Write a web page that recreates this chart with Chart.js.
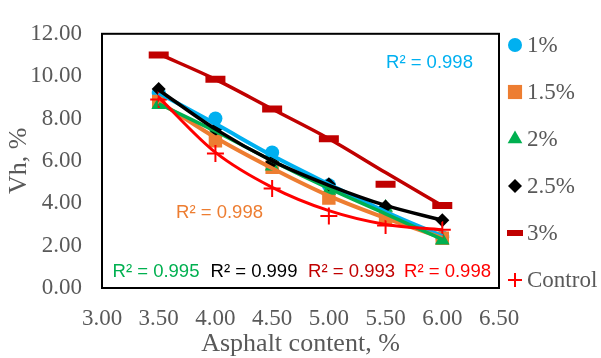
<!DOCTYPE html>
<html><head><meta charset="utf-8">
<script src="https://cdn.jsdelivr.net/npm/chart.js@4/dist/chart.umd.min.js"></script>
<style>html,body{margin:0;padding:0;background:#fff;}</style>
</head><body>
<canvas id="c" width="601" height="358"></canvas>
<script>
// ---- data ----
const asphalt = [3.5, 4.0, 4.5, 5.0, 5.5, 6.0];
const xTicks = [3.0, 3.5, 4.0, 4.5, 5.0, 5.5, 6.0, 6.5];
const yTicks = [0, 2, 4, 6, 8, 10, 12];
const seriesNames = ['1%', '1.5%', '2%', '2.5%', '3%', 'Control'];
// measured points
const vh1   = [9.2, 8.0, 6.4, 4.85, 3.45, 2.4];
const vh15  = [8.8, 6.95, 5.7, 4.25, 3.3, 2.35];
const vh2   = [8.65, 7.45, 5.75, 4.6, 3.8, 2.25];
const vh25  = [9.4, 7.5, 5.95, 4.9, 3.85, 3.2];
const vh3   = [11.0, 9.85, 8.45, 7.05, 4.9, 3.9];
const vhCtl = [8.9, 6.35, 4.7, 3.4, 2.95, 2.75];
// trendline values at the same x
const tr1   = [9.2, 7.75, 6.25, 4.9, 3.6, 2.45];
const tr15  = [8.8, 7.1, 5.65, 4.35, 3.3, 2.37];
const tr2   = [8.7, 7.4, 6.0, 4.7, 3.5, 2.3];
const tr25  = [9.35, 7.5, 6.0, 4.85, 3.9, 3.2];
const tr3   = [11.05, 9.85, 8.45, 7.05, 5.45, 3.88];
const trCtl = [9.0, 6.4, 4.75, 3.65, 3.0, 2.75];
const r2Labels = ['R² = 0.998', 'R² = 0.998', 'R² = 0.995', 'R² = 0.999', 'R² = 0.993', 'R² = 0.998'];

// ---- styling ----
const colors = ['#00B0F0', '#ED7D31', '#00B050', '#000000', '#C00000', '#FF0000'];
const markerStyles = [
  {pointStyle: 'circle', radius: 7, borderWidth: 0},
  {pointStyle: 'rect', radius: 9.5, borderWidth: 0},
  {pointStyle: 'triangle', radius: 8.5, borderWidth: 0},
  {pointStyle: 'rectRot', radius: 7, borderWidth: 0},
  {pointStyle: 'line', radius: 10, borderWidth: 7},
  {pointStyle: 'cross', radius: 8.5, borderWidth: 2}
];
const legendMarkers = [
  {pointStyle: 'circle', radius: 7, borderWidth: 0},
  {pointStyle: 'rect', radius: 10, borderWidth: 0},
  {pointStyle: 'triangle', radius: 8.5, borderWidth: 0},
  {pointStyle: 'rectRot', radius: 7, borderWidth: 0},
  {pointStyle: 'line', radius: 8, borderWidth: 6},
  {pointStyle: 'cross', radius: 7, borderWidth: 2}
];
const trendWidths = [4, 4, 3.5, 3.5, 3.5, 3];
// label anchor positions in data units (x, y)
const r2Pos = [[5.887, 10.61], [4.036, 3.54], [3.476, 0.78], [4.34, 0.74], [5.2, 0.74], [6.046, 0.74]];

const markerSets = [vh1, vh15, vh2, vh25, vh3, vhCtl];
const trendSets = [tr1, tr15, tr2, tr25, tr3, trCtl];
const toXY = arr => arr.map((v, i) => ({x: asphalt[i], y: v}));

const datasets = [];
markerSets.forEach((arr, i) => {
  const m = markerStyles[i];
  datasets.push({
    label: seriesNames[i], data: toXY(arr), showLine: false,
    pointStyle: m.pointStyle, pointRadius: m.radius, pointHoverRadius: m.radius,
    pointBorderWidth: m.borderWidth, pointBackgroundColor: colors[i], pointBorderColor: colors[i],
    backgroundColor: colors[i], borderColor: colors[i], order: 12 - i
  });
});
trendSets.forEach((arr, i) => {
  datasets.push({
    label: seriesNames[i] + ' trend', data: toXY(arr), showLine: true,
    borderColor: colors[i], borderWidth: trendWidths[i], pointRadius: 0,
    cubicInterpolationMode: 'monotone', tension: 0.4, fill: false, order: 6 - i
  });
});

const textGrey = '#595959';
const serif = "'Liberation Serif', 'Times New Roman', serif";

const frame = {
  id: 'frame',
  afterDatasetsDraw(chart) {
    const a = chart.chartArea, ctx = chart.ctx;
    ctx.save();
    ctx.strokeStyle = '#000'; ctx.lineWidth = 2;
    ctx.strokeRect(a.left, a.top, a.right - a.left, a.bottom - a.top);
    ctx.restore();
  }
};

function drawMarker(ctx, m, color, x, y) {
  ctx.save();
  ctx.fillStyle = color; ctx.strokeStyle = color;
  if (Chart.helpers && Chart.helpers.drawPoint) {
    ctx.lineWidth = m.borderWidth;
    Chart.helpers.drawPoint(ctx, {pointStyle: m.pointStyle, radius: m.radius, borderWidth: m.borderWidth, rotation: 0}, x, y);
  }
  ctx.restore();
}

const legendRight = {
  id: 'legendRight',
  afterDraw(chart) {
    const ctx = chart.ctx;
    const x0 = chart.chartArea.right + 16, tx = chart.chartArea.right + 28;
    ctx.save();
    seriesNames.forEach((name, i) => {
      const y = 45 + i * 47;
      drawMarker(ctx, legendMarkers[i], colors[i], x0, y);
      ctx.fillStyle = textGrey;
      ctx.font = "23px " + serif;
      ctx.textAlign = 'left'; ctx.textBaseline = 'middle';
      ctx.fillText(name, tx, y + 1);
    });
    ctx.restore();
  }
};

const r2Plugin = {
  id: 'r2',
  afterDraw(chart) {
    const ctx = chart.ctx, xs = chart.scales.x, ys = chart.scales.y;
    ctx.save();
    ctx.font = "18.5px 'Liberation Sans', Arial, sans-serif";
    ctx.textAlign = 'center'; ctx.textBaseline = 'middle';
    r2Labels.forEach((t, i) => {
      ctx.fillStyle = colors[i];
      ctx.fillText(t, xs.getPixelForValue(r2Pos[i][0]), ys.getPixelForValue(r2Pos[i][1]));
    });
    ctx.restore();
  }
};

new Chart(document.getElementById('c'), {
  type: 'line',
  data: {datasets},
  options: {
    responsive: false, animation: false, devicePixelRatio: 1,
    layout: {padding: {top: 20, right: 102, left: 0, bottom: 0}},
    plugins: {legend: {display: false}, tooltip: {enabled: false}},
    scales: {
      x: {
        type: 'linear', min: xTicks[0], max: xTicks[xTicks.length - 1],
        afterBuildTicks: s => { s.ticks = xTicks.map(v => ({value: v})); },
        afterFit: s => { s.height = 70; },
        grid: {display: false, drawTicks: false},
        border: {display: false},
        ticks: {padding: 17, color: textGrey, font: {family: serif, size: 23}, maxRotation: 0,
                callback: v => Number(v).toFixed(2)},
        title: {display: true, text: 'Asphalt content, %', color: textGrey,
                font: {family: serif, size: 26}, padding: {top: 0, bottom: -2}}
      },
      y: {
        type: 'linear', min: yTicks[0], max: yTicks[yTicks.length - 1],
        afterBuildTicks: s => { s.ticks = yTicks.map(v => ({value: v})); },
        afterFit: s => { s.width = 102; },
        grid: {display: false, drawTicks: false},
        border: {display: false},
        ticks: {padding: 20, color: textGrey, font: {family: serif, size: 23},
                callback: v => Number(v).toFixed(2)},
        title: {display: true, text: 'Vh, %', color: textGrey,
                font: {family: serif, size: 26}, padding: {top: 4, bottom: 0}}
      }
    }
  },
  plugins: [frame, legendRight, r2Plugin]
});
</script>
</body></html>
